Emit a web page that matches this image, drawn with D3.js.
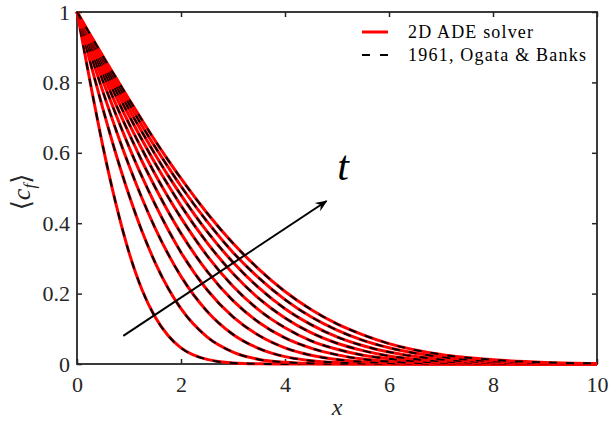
<!DOCTYPE html>
<html>
<head>
<meta charset="utf-8">
<script src="https://cdn.jsdelivr.net/npm/d3@7"></script>
<style>
  body { margin: 0; background: #fff; }
  svg { display: block; }
  .serif { font-family: "Liberation Serif", "Tinos", "Times New Roman", "DejaVu Serif", serif; }
  .tick text { font-family: "Liberation Serif", "Tinos", "Times New Roman", "DejaVu Serif", serif; font-size: 22px; fill: #262626; }
</style>
</head>
<body>
<div id="chart"></div>
<script>
var xs = [0, 0.25, 0.5, 0.75, 1, 1.25, 1.5, 1.75, 2, 2.5, 3, 3.5, 4, 4.5, 5, 5.5, 6, 7, 8, 9, 10];

// concentration profiles, one per time (earliest first)
var c1  = [1, 0.803, 0.617, 0.454, 0.317, 0.211, 0.134, 0.081, 0.046, 0.013, 0.003, 0.0005, 0, 0, 0, 0, 0, 0, 0, 0, 0];
var c2  = [1, 0.860, 0.724, 0.596, 0.480, 0.377, 0.289, 0.216, 0.157, 0.077, 0.034, 0.013, 0.005, 0.0015, 0.0004, 0.0001, 0, 0, 0, 0, 0];
var c3  = [1, 0.885, 0.773, 0.665, 0.564, 0.471, 0.387, 0.313, 0.249, 0.150, 0.084, 0.044, 0.021, 0.0095, 0.004, 0.0016, 0.0005, 0, 0, 0, 0];
var c4  = [1, 0.900, 0.803, 0.708, 0.617, 0.532, 0.454, 0.382, 0.317, 0.211, 0.134, 0.081, 0.046, 0.025, 0.013, 0.006, 0.003, 0.0005, 0, 0, 0];
var c5  = [1, 0.911, 0.823, 0.737, 0.655, 0.576, 0.503, 0.434, 0.371, 0.264, 0.180, 0.118, 0.074, 0.045, 0.026, 0.014, 0.007, 0.002, 0.0003, 0, 0];
var c6  = [1, 0.919, 0.838, 0.760, 0.683, 0.610, 0.540, 0.475, 0.415, 0.308, 0.221, 0.153, 0.103, 0.066, 0.042, 0.025, 0.015, 0.004, 0.001, 0.0002, 0];
var c7  = [1, 0.925, 0.850, 0.777, 0.706, 0.637, 0.571, 0.509, 0.450, 0.345, 0.257, 0.186, 0.131, 0.089, 0.059, 0.038, 0.023, 0.008, 0.0025, 0.0006, 0.0001];
var c8  = [1, 0.930, 0.860, 0.791, 0.724, 0.659, 0.596, 0.536, 0.480, 0.377, 0.289, 0.216, 0.157, 0.112, 0.077, 0.052, 0.034, 0.013, 0.005, 0.0015, 0.0004];
var c9  = [1, 0.934, 0.868, 0.803, 0.739, 0.677, 0.617, 0.560, 0.505, 0.405, 0.317, 0.244, 0.183, 0.134, 0.096, 0.067, 0.046, 0.020, 0.008, 0.0027, 0.0008];
var c10 = [1, 0.937, 0.874, 0.813, 0.752, 0.693, 0.635, 0.580, 0.527, 0.429, 0.343, 0.269, 0.206, 0.155, 0.114, 0.083, 0.058, 0.027, 0.012, 0.0045, 0.0016];

// solver and analytic solution lie on top of each other
var solver = [c1, c2, c3, c4, c5, c6, c7, c8, c9, c10];
var ogataBanks = [c1, c2, c3, c4, c5, c6, c7, c8, c9, c10];

var xTicks = [0, 2, 4, 6, 8, 10];
var yTicks = [0, 0.2, 0.4, 0.6, 0.8, 1];
var legendLabels = ["2D ADE solver", "1961, Ogata & Banks"];

// time arrow, in data units
var arrowFrom = [0.89, 0.08], arrowTo = [4.8, 0.463];

var W = 610, H = 423;
var margin = {top: 12, right: 13, bottom: 59, left: 77};
var axisColor = "#262626";

var svg = d3.select("#chart").append("svg")
    .attr("width", W)
    .attr("height", H);

var x = d3.scaleLinear().domain([0, 10]).range([margin.left, W - margin.right]);
var y = d3.scaleLinear().domain([0, 1]).range([H - margin.bottom, margin.top]);

// axes (ticks inside, box on)
var fmt = function(d) { return d3.format("~g")(d); };

svg.append("g")
    .attr("transform", "translate(0," + y(0) + ")")
    .call(d3.axisBottom(x).tickValues(xTicks).tickSizeInner(-5).tickSizeOuter(0).tickPadding(12).tickFormat(fmt));
svg.append("g")
    .attr("transform", "translate(" + x(0) + ",0)")
    .call(d3.axisLeft(y).tickValues(yTicks).tickSizeInner(-5).tickSizeOuter(0).tickPadding(7).tickFormat(fmt));
svg.append("g")
    .attr("transform", "translate(0," + y(1) + ")")
    .call(d3.axisTop(x).tickValues(xTicks).tickSizeInner(-5).tickSizeOuter(0).tickFormat(""));
svg.append("g")
    .attr("transform", "translate(" + x(10) + ",0)")
    .call(d3.axisRight(y).tickValues(yTicks).tickSizeInner(-5).tickSizeOuter(0).tickFormat(""));

svg.selectAll("g").attr("font-family", null);
svg.selectAll(".domain").remove();
svg.selectAll(".tick line").attr("stroke", axisColor).attr("stroke-width", 1.5);

svg.append("rect")
    .attr("x", x(0)).attr("y", y(1))
    .attr("width", x(10) - x(0)).attr("height", y(0) - y(1))
    .attr("fill", "none")
    .attr("stroke", axisColor)
    .attr("stroke-width", 1.8);

// curves
var line = d3.line()
    .x(function(d, i) { return x(xs[i]); })
    .y(function(d) { return y(d); })
    .curve(d3.curveMonotoneX);

var curves = svg.append("g");
solver.forEach(function(s, i) {
  curves.append("path")
      .attr("d", line(s))
      .attr("fill", "none")
      .attr("stroke", "#ff0000")
      .attr("stroke-width", 3);
  curves.append("path")
      .attr("d", line(ogataBanks[i]))
      .attr("fill", "none")
      .attr("stroke", "#000")
      .attr("stroke-width", 2)
      .attr("stroke-dasharray", "8,9");
});

// arrow
svg.append("defs").append("marker")
    .attr("id", "head")
    .attr("viewBox", "-12 -6 14 12")
    .attr("markerWidth", 14).attr("markerHeight", 12)
    .attr("markerUnits", "userSpaceOnUse")
    .attr("refX", 0).attr("refY", 0)
    .attr("orient", "auto")
  .append("path")
    .attr("d", "M1,0 L-11,-5 L-7,0 L-11,5 Z")
    .attr("fill", "#000");

svg.append("line")
    .attr("x1", x(arrowFrom[0])).attr("y1", y(arrowFrom[1]))
    .attr("x2", x(arrowTo[0])).attr("y2", y(arrowTo[1]))
    .attr("stroke", "#000")
    .attr("stroke-width", 2)
    .attr("marker-end", "url(#head)");

svg.append("text")
    .attr("class", "serif")
    .attr("x", 343).attr("y", 180)
    .attr("text-anchor", "middle")
    .style("font-style", "italic")
    .style("font-size", "42px")
    .text("t");

// axis labels
svg.append("text")
    .attr("class", "serif")
    .attr("x", x(5)).attr("y", 415)
    .attr("text-anchor", "middle")
    .style("font-style", "italic")
    .style("font-size", "24px")
    .attr("fill", axisColor)
    .text("x");

var ylab = svg.append("text")
    .attr("class", "serif")
    .attr("transform", "translate(30,192) rotate(-90)")
    .attr("text-anchor", "middle")
    .style("font-size", "26px")
    .attr("fill", axisColor);
ylab.append("tspan").text("\u27E8");
ylab.append("tspan").style("font-style", "italic").text("c");
ylab.append("tspan").style("font-style", "italic").style("font-size", "17px").attr("dy", 5).text("f");
ylab.append("tspan").attr("dy", -5).text("\u27E9");

// legend
var legend = svg.append("g");
var legendRows = [
  {label: legendLabels[0], color: "#ff0000", width: 3, dash: null, y: 32, len: 125},
  {label: legendLabels[1], color: "#000", width: 2, dash: "8,10", y: 55, len: 178}
];
legendRows.forEach(function(r) {
  legend.append("line")
      .attr("x1", 362).attr("x2", 388)
      .attr("y1", r.y).attr("y2", r.y)
      .attr("stroke", r.color)
      .attr("stroke-width", r.width)
      .attr("stroke-dasharray", r.dash);
  legend.append("text")
      .attr("class", "serif")
      .attr("x", 408).attr("y", r.y + 6)
      .attr("textLength", r.len)
      .attr("lengthAdjust", "spacing")
      .style("font-size", "18px")
      .attr("fill", "#000")
      .text(r.label);
});
</script>
</body>
</html>
